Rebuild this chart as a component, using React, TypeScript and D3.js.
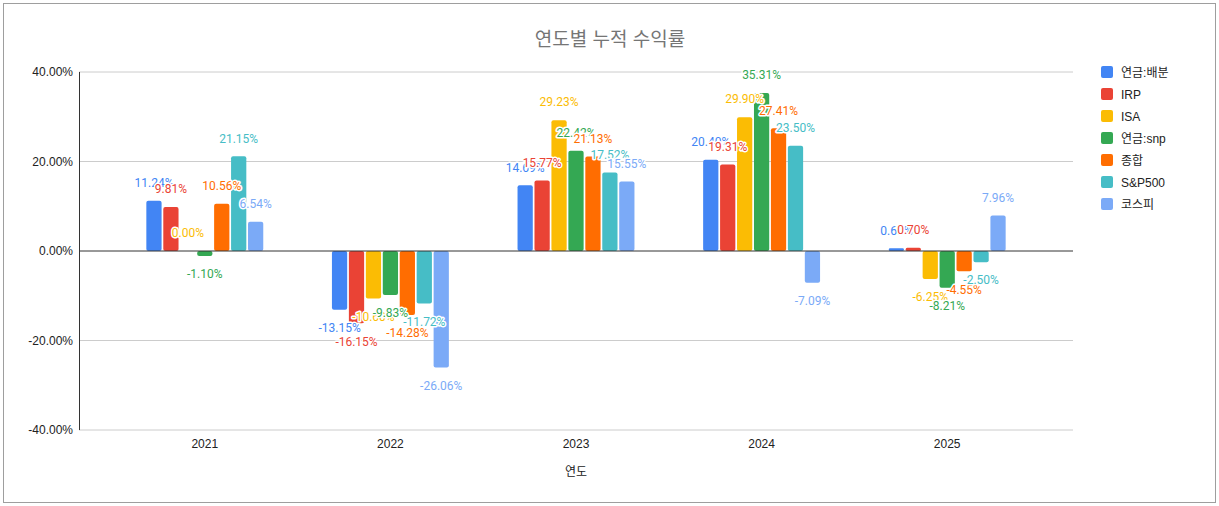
import React from "react";
import * as d3 from "d3";

const years = ["2021", "2022", "2023", "2024", "2025"];
const seriesNames = ["연금:배분", "IRP", "ISA", "연금:snp", "종합", "S&P500", "코스피"];
const seriesColors = ["#4285F4", "#EA4335", "#FBBC04", "#34A853", "#FF6D01", "#46BDC6", "#7BAAF7"];
const pension = [11.24, -13.15, 14.69, 20.4, 0.6];
const irp = [9.81, -16.15, 15.77, 19.31, 0.7];
const isa = [0.0, -10.6, 29.23, 29.9, -6.25];
const pensionSnp = [-1.1, -9.83, 22.42, 35.31, -8.21];
const general = [10.56, -14.28, 21.13, 27.41, -4.55];
const sp500 = [21.15, -11.72, 17.52, 23.5, -2.5];
const kospi = [6.54, -26.06, 15.55, -7.09, 7.96];
const seriesValues = [pension, irp, isa, pensionSnp, general, sp500, kospi];
const yTicks = [-40, -20, 0, 20, 40];

const W = 1219;
const H = 506;
const left = 79;
const right = 1073;
const top = 72;
const bottom = 430;
const bandInset = 33;
const FONT = "'Liberation Sans', Arial, 'Noto Sans CJK KR', sans-serif";
const LABEL_FONT = "Roboto, 'Liberation Sans', sans-serif";

export default function App() {
  const x0 = d3.scaleBand<string>().domain(years).range([left + bandInset, right - bandInset]).paddingInner(0.37).paddingOuter(0.185);
  const x1 = d3.scaleBand<string>().domain(seriesNames).range([0, x0.bandwidth()]).paddingInner(0.1);
  const y = d3.scaleLinear().domain([-40, 40]).range([bottom, top]);
  const fmt = (v: number) => v.toFixed(2) + "%";

  return (
    <svg width={W} height={H} style={{ position: "absolute", left: 0, top: 0, background: "#fff" }} fontFamily={FONT}>
      <rect x={3.5} y={3.5} width={W - 7} height={H - 7} fill="#fff" stroke="#9e9e9e" strokeWidth={1} />
      <text x={610} y={46} textAnchor="middle" fontSize={19} fill="#757575">연도별 누적 수익률</text>
      {yTicks.map((t) => (
        <g key={t}>
          {t !== 0 && <line x1={left} x2={right} y1={y(t)} y2={y(t)} stroke="#cccccc" strokeWidth={1} />}
          <text x={73} y={y(t) + 4} textAnchor="end" fontSize={12} fill="#222">{t.toFixed(2) + "%"}</text>
        </g>
      ))}
      {seriesValues.map((vals, si) => (
        <g key={si}>
          {vals.map((v, yi) => {
            const bx = (x0(years[yi]) ?? 0) + (x1(seriesNames[si]) ?? 0);
            const y0 = y(0);
            const y1 = y(v);
            const h = Math.abs(y1 - y0);
            if (h < 0.5) return null;
            const r = Math.min(2, h / 2);
            const w = x1.bandwidth();
            const ry = Math.min(y0, y1);
            return <rect key={yi} x={bx} y={ry} width={w} height={h} rx={r} ry={r} fill={seriesColors[si]} />;
          })}
        </g>
      ))}
      <line x1={left} x2={right} y1={y(0)} y2={y(0)} stroke="#333" strokeWidth={1} />
      <line x1={left + 0.5} x2={left + 0.5} y1={top} y2={bottom} stroke="#333" strokeWidth={1} />
      {seriesValues.map((vals, si) => (
        <g key={"l" + si}>
          {vals.map((v, yi) => {
            const cx = (x0(years[yi]) ?? 0) + (x1(seriesNames[si]) ?? 0) + x1.bandwidth() / 2;
            const cy = v >= 0 ? y(v) - 18 : y(v) + 18;
            return (
              <text key={yi} x={cx} y={cy + 4.3} textAnchor="middle" fontSize={12} fontFamily={LABEL_FONT} fill={seriesColors[si]}
                stroke="#fff" strokeWidth={3} paintOrder="stroke" strokeLinejoin="round">{fmt(v)}</text>
            );
          })}
        </g>
      ))}
      {years.map((yr) => (
        <text key={yr} x={(x0(yr) ?? 0) + x0.bandwidth() / 2} y={448} textAnchor="middle" fontSize={12} fill="#222">{yr}</text>
      ))}
      <text x={(left + right) / 2} y={476} textAnchor="middle" fontSize={12} fill="#222">연도</text>
      {seriesNames.map((n, i) => (
        <g key={n}>
          <rect x={1101} y={66 + i * 22} width={12} height={12} rx={2} fill={seriesColors[i]} />
          <text x={1121} y={76.5 + i * 22} fontSize={12} fill="#222">{n}</text>
        </g>
      ))}
    </svg>
  );
}
